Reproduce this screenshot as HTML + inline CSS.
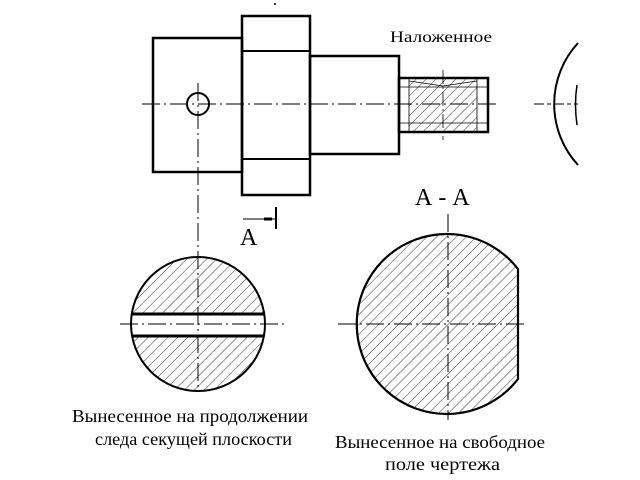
<!DOCTYPE html>
<html><head><meta charset="utf-8"><style>
html,body{margin:0;padding:0;background:#fff}
svg{display:block}
text{font-family:"Liberation Serif",serif;fill:#000}
</style></head><body>
<svg width="640" height="480" viewBox="0 0 640 480" xmlns="http://www.w3.org/2000/svg">
<defs>
<pattern id="h" patternUnits="userSpaceOnUse" width="7" height="7" patternTransform="rotate(45)">
<line x1="0" y1="0" x2="0" y2="7" stroke="#000" stroke-width="0.8"/>
</pattern>
<clipPath id="c1"><circle cx="198" cy="324" r="67"/></clipPath>
<clipPath id="c2"><circle cx="448" cy="324" r="90"/></clipPath>
</defs>
<g fill="none" stroke="#000">
<rect x="153" y="38" width="89" height="134" stroke-width="2.5"/>
<rect x="242" y="16" width="68" height="179" stroke-width="2.5"/>
<line x1="242" y1="51" x2="310" y2="51" stroke-width="2"/>
<line x1="242" y1="159" x2="310" y2="159" stroke-width="2"/>
<rect x="310" y="56" width="89" height="98" stroke-width="2.5"/>
<rect x="409" y="78" width="68" height="54" fill="url(#h)" stroke="none"/>
<rect x="399" y="78" width="89" height="54" stroke-width="2.5"/>
<line x1="399" y1="87" x2="488" y2="87" stroke-width="0.8"/>
<line x1="399" y1="123" x2="488" y2="123" stroke-width="0.8"/>
<line x1="409" y1="78" x2="409" y2="132" stroke-width="0.8"/>
<line x1="477" y1="78" x2="477" y2="132" stroke-width="0.8"/>
<path d="M409 81 L443 86 L477 81" stroke-width="0.8"/>
<line x1="443" y1="70" x2="443" y2="140" stroke-width="0.8" stroke-dasharray="14 3 2 3"/>
<circle cx="198" cy="104" r="11" stroke-width="2"/>
<line x1="142" y1="104" x2="500" y2="104" stroke-width="1" stroke-dasharray="18 4 2 4"/>
<line x1="198" y1="83" x2="198" y2="390" stroke-width="1" stroke-dasharray="18 4 2 4"/>
<line x1="276" y1="207" x2="276" y2="229" stroke-width="2"/>
<line x1="243" y1="219" x2="276" y2="219" stroke-width="1"/>
<line x1="264" y1="219" x2="272" y2="219" stroke-width="3"/>
<path d="M578 43 A90 90 0 0 0 578 165" stroke-width="2"/>
<path d="M577 85 Q574 104 577 125" stroke-width="1.5"/>
<line x1="534" y1="104" x2="578" y2="104" stroke-width="1" stroke-dasharray="10 3 4 3"/>
<g clip-path="url(#c1)">
<rect x="130" y="256" width="136" height="57" fill="url(#h)" stroke="none"/>
<rect x="130" y="336" width="136" height="57" fill="url(#h)" stroke="none"/>
</g>
<circle cx="198" cy="324" r="67" stroke-width="2"/>
<line x1="132" y1="314" x2="264" y2="314" stroke-width="3"/>
<line x1="132" y1="336" x2="264" y2="336" stroke-width="3"/>
<line x1="120" y1="324" x2="284" y2="324" stroke-width="1" stroke-dasharray="18 4 2 4"/>
<g clip-path="url(#c2)">
<rect x="358" y="234" width="160" height="180" fill="url(#h)" stroke="none"/>
</g>
<path d="M518 269 A90 90 0 1 0 518 379 Z" stroke-width="2.2"/>
<line x1="338" y1="324" x2="528" y2="324" stroke-width="1" stroke-dasharray="18 4 2 4"/>
<line x1="448" y1="214" x2="448" y2="420" stroke-width="1" stroke-dasharray="18 4 2 4"/>
</g>
<circle cx="275" cy="4" r="1" fill="#000"/>
<text x="390" y="42" font-size="16" textLength="102" lengthAdjust="spacingAndGlyphs">Наложенное</text>
<text x="240" y="245" font-size="24">А</text>
<text x="415" y="205" font-size="24">А - А</text>
<text x="72" y="422" font-size="18" textLength="236" lengthAdjust="spacingAndGlyphs">Вынесенное на продолжении</text>
<text x="95" y="445" font-size="18" textLength="197" lengthAdjust="spacingAndGlyphs">следа секущей плоскости</text>
<text x="335" y="448" font-size="18" textLength="210" lengthAdjust="spacingAndGlyphs">Вынесенное на свободное</text>
<text x="385" y="470" font-size="18" textLength="115" lengthAdjust="spacingAndGlyphs">поле чертежа</text>
</svg>
</body></html>
